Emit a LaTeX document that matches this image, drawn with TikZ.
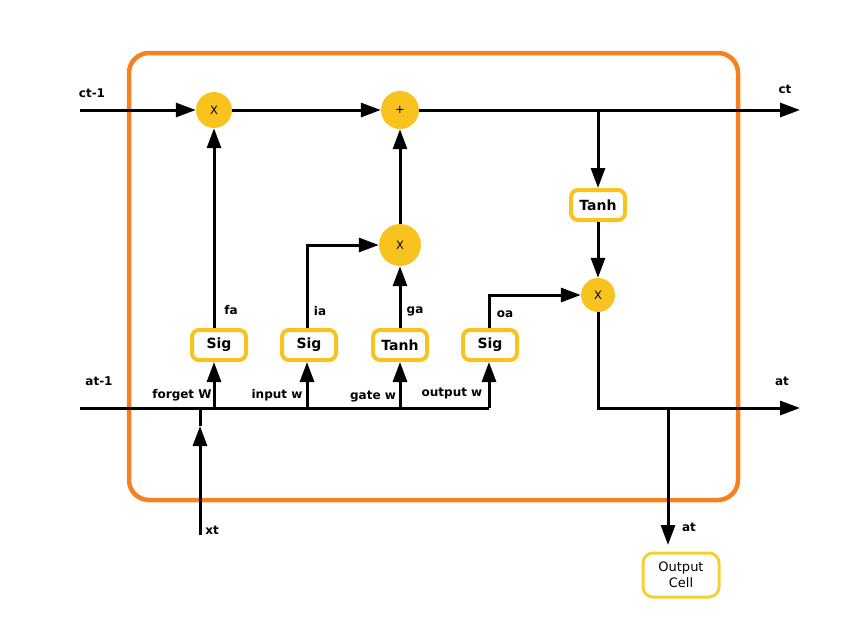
\documentclass[tikz,border=0pt]{standalone}
\usepackage{fontspec}
\setmainfont{DejaVu Sans}
\usetikzlibrary{arrows.meta}
\definecolor{frameorange}{RGB}{245,130,32}
\definecolor{gateyellow}{RGB}{249,195,31}
\definecolor{celly}{RGB}{245,208,51}
\tikzset{
  op/.style={circle,fill=gateyellow,minimum size=36pt,inner sep=0pt,font=\fontsize{11.5}{13}\selectfont},
  gatebox/.style={draw=gateyellow,line width=4pt,rounded corners=7pt,fill=white,minimum width=54pt,minimum height=30pt,inner sep=2pt,font=\fontsize{14}{16}\selectfont\bfseries},
  cellbox/.style={draw=celly,line width=3pt,rounded corners=10pt,minimum width=76pt,minimum height=44pt,align=center,font=\fontsize{13}{16}\selectfont},
  wire/.style={line width=3pt,black},
  arr/.style={wire,-{Triangle[length=20pt,width=14pt]}},
  lbl/.style={font=\fontsize{12}{14}\selectfont\bfseries,inner sep=1pt},
}
\begin{document}
\begin{tikzpicture}[x=1pt,y=-1pt]
\useasboundingbox (0,0) rectangle (860,641);
% frame
\node[draw=frameorange,line width=4.5pt,rounded corners=20pt,minimum width=609pt,minimum height=447pt,inner sep=0pt] (frame) at (433.5,276.5) {};
% operation circles
\node[op] (x1) at (214,110) {X};
\node[op,minimum size=38pt] (plus) at (400,110) {+};
\node[op,minimum size=42pt] (x2) at (400,245) {X};
\node[op,minimum size=34pt] (x3) at (598,295) {X};
% gate boxes
\node[gatebox] (sig1) at (219,345) {Sig};
\node[gatebox] (sig2) at (309,345) {Sig};
\node[gatebox] (tanh1) at (400,345) {Tanh};
\node[gatebox] (sig3) at (490,345) {Sig};
\node[gatebox] (tanh2) at (598,205) {Tanh};
\node[cellbox] (cell) at (681,575) {Output\\Cell};
% coordinates
\coordinate (cin) at (80,110);
\coordinate (cout) at (800,110);
\coordinate (j1) at (598,110);
\coordinate (aout) at (800,408);
\coordinate (j3) at (668,408);
\coordinate (ain) at (80,408);
\coordinate (jf) at (214,408);
\coordinate (ji) at (307,408);
\coordinate (jg) at (400,408);
\coordinate (jo) at (489,408);
\coordinate (xt) at (200,535);
\coordinate (xm) at (200,426);
\coordinate (jx) at (200,408);
\coordinate (cellin) at (668,545);
% cell state line
\draw[arr] (cin) -- (x1);
\draw[arr] (x1) -- (plus);
\draw[arr] (plus) -- (cout);
\draw[arr] (j1) -- (tanh2);
\draw[arr] (tanh2) -- (x3);
\draw[arr] (x3) |- (aout);
\draw[arr] (j3) -- (cellin);
% input line
\draw[wire] (ain) -- (jo);
\draw[arr] (jf) -- (jf |- sig1.south);
\draw[arr] (ji) -- (ji |- sig2.south);
\draw[arr] (jg) -- (tanh1);
\draw[arr] (jo) -- (jo |- sig3.south);
\draw[arr] (xt) -- (xm);
\draw[wire] (xm) -- (jx);
% gate outputs
\draw[arr] (jf |- sig1.north) -- (jf |- x1.south);
\draw[arr] (ji |- sig2.north) |- (x2);
\draw[arr] (tanh1) -- (x2);
\draw[arr] (x2) -- (plus);
\draw[arr] (jo |- sig3.north) |- (x3);
% labels
\node[lbl] (lct1) at (92,93) {ct-1};
\node[lbl] (lct) at (785,89) {ct};
\node[lbl] (lat1) at (99,381) {at-1};
\node[lbl] (lat) at (782,381) {at};
\node[lbl] (lat2) at (689,527) {at};
\node[lbl] (lxt) at (212,530) {xt};
\node[lbl] (lfa) at (231,310) {fa};
\node[lbl] (lia) at (320,311) {ia};
\node[lbl] (lga) at (415,311) {ga};
\node[lbl] (loa) at (505,314) {oa};
\node[lbl] (lfw) at (182,395) {forget W};
\node[lbl] (liw) at (277,395) {input w};
\node[lbl] (lgw) at (373,397) {gate w};
\node[lbl] (low) at (452,394) {output w};
\end{tikzpicture}
\end{document}
